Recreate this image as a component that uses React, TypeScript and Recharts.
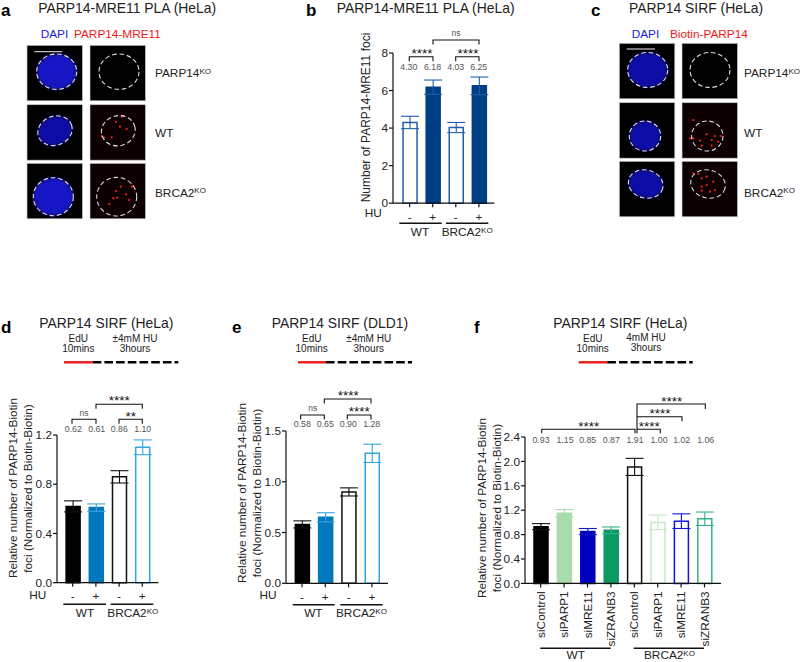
import { BarChart, Bar, XAxis, YAxis, ErrorBar } from 'recharts';

const font = '"Liberation Sans", Arial, sans-serif';

const huLabels = ['-', '+', '-', '+'];
const siLabels = ['siControl', 'siPARP1', 'siMRE11', 'siZRANB3', 'siControl', 'siPARP1', 'siMRE11', 'siZRANB3'];

const plaValues = [4.3, 6.18, 4.03, 6.25];
const plaErrors = [0.33, 0.38, 0.27, 0.47];
const plaTicks = [0, 2, 4, 6, 8];

const helaValues = [0.62, 0.61, 0.86, 1.1];
const helaErrors = [0.045, 0.03, 0.05, 0.06];
const helaTicks = [0, 0.4, 0.8, 1.2];

const dldValues = [0.58, 0.65, 0.9, 1.28];
const dldErrors = [0.035, 0.045, 0.04, 0.09];
const dldTicks = [0, 0.5, 1, 1.5];

const siValues = [0.93, 1.15, 0.85, 0.87, 1.91, 1.0, 1.02, 1.06];
const siErrors = [0.05, 0.06, 0.05, 0.055, 0.14, 0.12, 0.12, 0.11];
const siTicks = [0, 0.4, 0.8, 1.2, 1.6, 2.0, 2.4];

const NAVY = '#003f85';
const NAVY_LINE = '#1f5fa8';
const BLUE = '#0078bd';
const SKY = '#35a3e0';
const plaFills = ['#fff', NAVY, '#fff', NAVY];
const plaLines = [NAVY_LINE, NAVY, NAVY_LINE, NAVY];
const plaErrColors = [NAVY_LINE, NAVY_LINE, NAVY_LINE, NAVY_LINE];
const hdFills = ['#000', BLUE, '#fff', '#fff'];
const hdLines = ['#000', BLUE, '#111', SKY];
const hdErrColors = ['#111', SKY, '#111', SKY];
const siFills = ['#000', '#a9dcaa', '#0000bf', '#0a9a62', '#fff', '#fff', '#fff', '#fff'];
const siLines = ['#000', '#a9dcaa', '#0000bf', '#0a9a62', '#111', '#c4e8c4', '#1414e0', '#35b08c'];
const siErrColors = ['#111', '#a9dcaa', '#1414c8', '#35b08c', '#111', '#c4e8c4', '#1414e0', '#35b08c'];

// recharts' own angle leaves rotated labels off the tick, so centre them by hand
function RotatedTick({ x, y, payload }: any) {
  return (
    <text
      x={x}
      y={y}
      dy="0.35em"
      fontSize={11.8}
      fill="#222"
      fontFamily={font}
      textAnchor="end"
      transform={`rotate(-90 ${x} ${y})`}
    >
      {payload.value}
    </text>
  );
}

function BarPanel({ labels, values, errors, fills, lines, errColors, ticks, axisX, topY, zeroY, endX, firstX, step, rotate, decimals }: any) {
  const data = labels.map((label: string, i: number) => {
    const row: any = { label };
    row['v' + i] = values[i];
    row['e' + i] = errors[i];
    return row;
  });
  const yWidth = 30;
  const plotW = endX - axisX;
  const bottom = rotate ? 70 : 30;
  const lastX = firstX + step * (labels.length - 1);
  return (
    <div style={{ position: 'absolute', left: axisX - yWidth, top: topY - 10 }}>
      <BarChart
        width={yWidth + plotW + 4}
        height={zeroY - topY + 10 + bottom}
        data={data}
        margin={{ top: 10, right: 4, bottom: 0, left: 0 }}
      >
        <XAxis
          dataKey="label"
          interval={0}
          padding={{ left: firstX - axisX - step / 2, right: endX - lastX - step / 2 }}
          axisLine={{ stroke: '#111', strokeWidth: 1.2 }}
          tickLine={{ stroke: '#111', strokeWidth: 1.2 }}
          tickSize={4}
          tickMargin={rotate ? 4 : 5}
          height={bottom}
          tick={rotate ? RotatedTick : { fontSize: 11.8, fill: '#222', fontFamily: font }}
        />
        <YAxis
          width={yWidth}
          domain={[ticks[0], ticks[ticks.length - 1]]}
          ticks={ticks}
          interval={0}
          tickFormatter={(v: number) => v.toFixed(decimals)}
          axisLine={{ stroke: '#111', strokeWidth: 1.2 }}
          tickLine={{ stroke: '#111', strokeWidth: 1.2 }}
          tickSize={4}
          tickMargin={1}
          tick={{ fontSize: 11.8, fill: '#222', fontFamily: font }}
        />
        {labels.map((_: string, i: number) => (
          <Bar
            key={i}
            dataKey={'v' + i}
            stackId="a"
            barSize={14}
            fill={fills[i]}
            stroke={lines[i]}
            strokeWidth={1.5}
            isAnimationActive={false}
          >
            <ErrorBar dataKey={'e' + i} width={9} stroke={errColors[i]} strokeWidth={1.1} isAnimationActive={false} />
          </Bar>
        ))}
      </BarChart>
    </div>
  );
}

function T({ x, y, s = 11.8, fill = '#222', a = 'start', w, children }: any) {
  return (
    <text x={x} y={y} fontSize={s} fill={fill} textAnchor={a} fontWeight={w} fontFamily={font}>
      {children}
    </text>
  );
}

function KO({ x, y, s = 11.8, a = 'start' }: any) {
  return (
    <T x={x} y={y} s={s} a={a}>
      BRCA2<tspan dy={-3.5} fontSize={s * 0.68}>KO</tspan>
    </T>
  );
}

function Bracket({ x1, x2, y, leg = 4.5, leg2 }: any) {
  return (
    <path
      d={`M${x1} ${y + leg}V${y}H${x2}V${y + (leg2 ?? leg)}`}
      fill="none"
      stroke="#111"
      strokeWidth={1.1}
    />
  );
}

// centred on the glyphs, asterisks sit high in the em box
function Stars({ x, cy, n = 4 }: any) {
  return (
    <T x={x} y={cy + 7.6} s={13.5} a="middle" fill="#111">
      {'*'.repeat(n)}
    </T>
  );
}

function Values({ xs, y, list }: any) {
  return list.map((v: number, i: number) => (
    <T key={i} x={xs[i]} y={y} s={8.8} a="middle" fill="#555">
      {v.toFixed(2)}
    </T>
  ));
}

function Timeline({ x1, x2, x3, y }: any) {
  return (
    <g>
      <line x1={x1} x2={x2} y1={y} y2={y} stroke="#f01818" strokeWidth={2.4} />
      <line x1={x2} x2={x3} y1={y} y2={y} stroke="#000" strokeWidth={2.4} strokeDasharray="8.6 3.1" />
    </g>
  );
}

function GroupLines({ a1, a2, b1, b2, y }: any) {
  return (
    <g stroke="#111" strokeWidth={1.5}>
      <line x1={a1} x2={a2} y1={y} y2={y} />
      <line x1={b1} x2={b2} y1={y} y2={y} />
    </g>
  );
}

function Cell({ x, y, size = 55.5, red, cx, cy, rx, ry, rot = 0, dots = [], dim, blue = '#1212c4' }: any) {
  const tr = `rotate(${rot} ${cx} ${cy})`;
  return (
    <g>
      <rect x={x} y={y} width={size} height={size} fill={dim ? '#0d0101' : '#000'} stroke="#c8c8c8" strokeWidth={0.7} />
      {!red && <ellipse cx={cx} cy={cy} rx={rx} ry={ry} transform={tr} fill={blue} filter="url(#soft)" />}
      {dots.map((d: number[], i: number) => (
        <circle key={i} cx={d[0]} cy={d[1]} r={1.1} fill="#ff2020" filter="url(#dot)" />
      ))}
      <ellipse cx={cx} cy={cy} rx={rx} ry={ry} transform={tr} fill="none" stroke="#ddd" strokeWidth={1.1} strokeDasharray="4.6 2.8" />
    </g>
  );
}

const aDots2 = [[116, 122], [121.7, 116.7], [126.7, 129], [120, 126.7], [101.7, 136], [104, 137.7], [111.7, 137.3], [123.3, 116]];
const aDots3 = [[133.3, 186], [131.7, 186.7], [120.7, 186.7], [126, 194.3], [113.3, 198.3], [117.3, 197.7], [129, 200], [109.3, 204], [116, 191]];
const cDots2 = [[706.7, 134.3], [715, 136], [711.7, 140], [700, 140.7], [701.7, 145.7], [711.7, 145.7], [720.7, 136], [718.3, 141.7], [693.3, 138.3], [693.3, 120], [690, 138.3]];
const cDots3 = [[698.3, 174], [706.7, 176.7], [701.7, 178.3], [706.7, 185], [701.7, 186.7], [715, 190], [701.7, 190.7], [710, 191.7], [693.3, 173.3], [713.3, 181.7]];

const DIM_BLUE = '#0e0ea6';

export default function App() {
  return (
    <div style={{ position: 'absolute', left: 0, top: 0, width: 800, height: 662, overflow: 'hidden', background: '#fff' }}>
      <BarPanel labels={huLabels} values={plaValues} errors={plaErrors} fills={plaFills} lines={plaLines} errColors={plaErrColors}
        ticks={plaTicks} decimals={0} axisX={392.7} topY={53.3} zeroY={203.5} endX={494} firstX={409.3} step={23.1} />
      <BarPanel labels={huLabels} values={helaValues} errors={helaErrors} fills={hdFills} lines={hdLines} errColors={hdErrColors}
        ticks={helaTicks} decimals={1} axisX={57.3} topY={435} zeroY={582.7} endX={158.7} firstX={73} step={23.2} />
      <BarPanel labels={huLabels} values={dldValues} errors={dldErrors} fills={hdFills} lines={hdLines} errColors={hdErrColors}
        ticks={dldTicks} decimals={1} axisX={286} topY={430.7} zeroY={583} endX={388} firstX={302} step={23.3} />
      <BarPanel labels={siLabels} values={siValues} errors={siErrors} fills={siFills} lines={siLines} errColors={siErrColors}
        ticks={siTicks} decimals={1} axisX={525.3} topY={437.3} zeroY={583.7} endX={721.3} firstX={541} step={23.4} rotate />

      <svg width={800} height={662} style={{ position: 'absolute', left: 0, top: 0, pointerEvents: 'none' }}>
        <defs>
          <filter id="soft" x="-20%" y="-20%" width="140%" height="140%"><feGaussianBlur stdDeviation="1.4" /></filter>
          <filter id="dot" x="-100%" y="-100%" width="300%" height="300%"><feGaussianBlur stdDeviation="0.5" /></filter>
        </defs>

        {/* panel letters */}
        <T x={1} y={15.5} s={17} w="bold" fill="#000">a</T>
        <T x={306} y={15.5} s={17} w="bold" fill="#000">b</T>
        <T x={591} y={15.5} s={17} w="bold" fill="#000">c</T>
        <T x={1} y={333} s={17} w="bold" fill="#000">d</T>
        <T x={232} y={333} s={17} w="bold" fill="#000">e</T>
        <T x={474} y={333} s={17} w="bold" fill="#000">f</T>

        {/* a */}
        <T x={38.3} y={12.5} s={13.9}>PARP14-MRE11 PLA (HeLa)</T>
        <T x={40.7} y={38.3} fill="#1a1ae0">DAPI</T>
        <T x={74} y={38.3} fill="#f01818">PARP14-MRE11</T>
        <Cell x={27} y={45.3} cx={56.7} cy={71.7} rx={20} ry={17.7} />
        <Cell x={90} y={45.3} red cx={119} cy={71.7} rx={20} ry={17.7} />
        <Cell x={27} y={104.7} cx={55} cy={130.7} rx={17.5} ry={14.5} rot={-20} blue={DIM_BLUE} />
        <Cell x={90} y={104.7} red dim cx={118.3} cy={130.7} rx={17} ry={15} rot={-15} dots={aDots2} />
        <Cell x={27} y={163.3} cx={53.3} cy={196.7} rx={20} ry={19} />
        <Cell x={90} y={163.3} red dim cx={116.7} cy={196.7} rx={20} ry={19.3} dots={aDots3} />
        <line x1={34.3} x2={62.3} y1={51.7} y2={51.7} stroke="#eee" strokeWidth={1} />
        <T x={155} y={77}>PARP14<tspan dy={-3.5} fontSize={8}>KO</tspan></T>
        <T x={155} y={136.7}>WT</T>
        <KO x={155} y={196.7} />

        {/* b */}
        <T x={336.7} y={12.5} s={13.9}>PARP14-MRE11 PLA (HeLa)</T>
        <g transform="translate(370 117.5) rotate(-90)"><T x={0} y={0} s={12} a="middle">Number of PARP14-MRE11 foci</T></g>
        <Bracket x1={409.3} x2={433} y={56.7} />
        <Bracket x1={455.7} x2={479} y={56.7} />
        <Bracket x1={433} x2={479} y={40} />
        <Stars x={422} cy={50} />
        <Stars x={468} cy={50} />
        <T x={456} y={36} s={8.5} a="middle" fill="#555">ns</T>
        <Values xs={[408.8, 432.5, 455.7, 478.7]} y={70} list={plaValues} />
        <T x={364.7} y={217}>HU</T>
        <GroupLines a1={399.3} a2={441.7} b1={446} b2={488.3} y={223.3} />
        <T x={420} y={236} a="middle">WT</T>
        <KO x={441.7} y={236} />

        {/* c */}
        <T x={629} y={12.5} s={13.9}>PARP14 SIRF (HeLa)</T>
        <T x={631.7} y={38.3} fill="#1a1ae0">DAPI</T>
        <T x={670} y={38.3} fill="#f01818">Biotin-PARP14</T>
        <Cell x={619.3} y={43.3} cx={647.7} cy={70} rx={20} ry={17.5} blue={DIM_BLUE} />
        <Cell x={682} y={43.3} red cx={710} cy={70} rx={20} ry={17.5} />
        <Cell x={619.3} y={102.7} cx={645} cy={136} rx={15.7} ry={15} blue={DIM_BLUE} />
        <Cell x={682} y={102.7} red dim cx={707.3} cy={136} rx={15.7} ry={15} dots={cDots2} />
        <Cell x={619.3} y={161.3} cx={645.7} cy={184} rx={17.5} ry={14} rot={15} blue={DIM_BLUE} />
        <Cell x={682} y={161.3} red dim cx={708} cy={184} rx={17.5} ry={14} rot={15} dots={cDots3} />
        <line x1={626.7} x2={655} y1={49} y2={49} stroke="#eee" strokeWidth={1} />
        <T x={744} y={77}>PARP14<tspan dy={-3.5} fontSize={8}>KO</tspan></T>
        <T x={744} y={137}>WT</T>
        <KO x={744} y={196.7} />

        {/* d */}
        <T x={39.3} y={328.3} s={13.9}>PARP14 SIRF (HeLa)</T>
        <T x={78.3} y={341.5} s={10} a="middle">EdU</T>
        <T x={78.3} y={352} s={10} a="middle">10mins</T>
        <T x={135} y={341.5} s={10} a="middle">±4mM HU</T>
        <T x={135} y={352} s={10} a="middle">3hours</T>
        <Timeline x1={64} x2={92.7} x3={178.3} y={362.3} />
        <g transform="translate(16.5 488) rotate(-90)"><T x={0} y={0} a="middle">Relative number of PARP14-Biotin</T></g>
        <g transform="translate(32 488.5) rotate(-90)"><T x={0} y={0} a="middle">foci (Normalized to Biotin-Biotin)</T></g>
        <Bracket x1={72} x2={96} y={419.3} />
        <Bracket x1={119} x2={142.3} y={419.3} />
        <Bracket x1={96} x2={142.3} y={404.3} />
        <T x={84} y={416} s={8.5} a="middle" fill="#555">ns</T>
        <Stars x={130.7} cy={413} n={2} />
        <Stars x={119.3} cy={397.7} />
        <Values xs={[73.3, 96.7, 119.3, 142.7]} y={432.3} list={helaValues} />
        <T x={29.3} y={599.3}>HU</T>
        <GroupLines a1={63.3} a2={106} b1={110.7} b2={153.3} y={604.3} />
        <T x={85} y={617.3} a="middle">WT</T>
        <KO x={107.3} y={617.3} />

        {/* e */}
        <T x={271.7} y={328.3} s={13.9}>PARP14 SIRF (DLD1)</T>
        <T x={311.7} y={341.5} s={10} a="middle">EdU</T>
        <T x={311.7} y={352} s={10} a="middle">10mins</T>
        <T x={368.7} y={341.5} s={10} a="middle">±4mM HU</T>
        <T x={368.7} y={352} s={10} a="middle">3hours</T>
        <Timeline x1={298} x2={326} x3={412} y={362.3} />
        <g transform="translate(245.5 493) rotate(-90)"><T x={0} y={0} a="middle">Relative number of PARP14-Biotin</T></g>
        <g transform="translate(261 493) rotate(-90)"><T x={0} y={0} a="middle">foci (Normalized to Biotin-Biotin)</T></g>
        <Bracket x1={300.7} x2={324.3} y={415} />
        <Bracket x1={347.3} x2={371} y={415} />
        <Bracket x1={324.3} x2={371} y={399} />
        <T x={312.7} y={411} s={8.5} a="middle" fill="#555">ns</T>
        <Stars x={359.3} cy={408.7} />
        <Stars x={348.3} cy={392.3} />
        <Values xs={[302.3, 325.3, 348.3, 371.7]} y={427.3} list={dldValues} />
        <T x={259.5} y={599.3}>HU</T>
        <GroupLines a1={292.7} a2={334.7} b1={340.3} b2={382.7} y={604.7} />
        <T x={313.3} y={617.3} a="middle">WT</T>
        <KO x={336} y={617.3} />

        {/* f */}
        <T x={553.3} y={328.3} s={13.9}>PARP14 SIRF (HeLa)</T>
        <T x={592.7} y={341.5} s={10} a="middle">EdU</T>
        <T x={592.7} y={352} s={10} a="middle">10mins</T>
        <T x={646} y={340.7} s={10} a="middle">4mM HU</T>
        <T x={646} y={351} s={10} a="middle">3hours</T>
        <Timeline x1={578.7} x2={607.3} x3={692.7} y={362.3} />
        <g transform="translate(485.5 508) rotate(-90)"><T x={0} y={0} a="middle">Relative number of PARP14-Biotin</T></g>
        <g transform="translate(500.5 508) rotate(-90)"><T x={0} y={0} a="middle">foci (Normalized to Biotin-Biotin)</T></g>
        <Bracket x1={541.7} x2={635} y={429.3} leg={4} />
        <Bracket x1={637} x2={660.3} y={429.3} leg={4} />
        <Bracket x1={637} x2={682} y={416.7} leg={12.6} leg2={4.5} />
        <Bracket x1={637} x2={705.3} y={404} leg={12.7} leg2={5} />
        <Stars x={588.7} cy={423.3} />
        <Stars x={649.3} cy={423.3} />
        <Stars x={660} cy={410.7} />
        <Stars x={671.7} cy={398} />
        <Values xs={[541, 565, 587.7, 611.3, 635, 659, 681.7, 705.7]} y={442.7} list={siValues} />
        <GroupLines a1={540.3} a2={610.7} b1={633.7} b2={704} y={648.3} />
        <T x={575.7} y={659} a="middle">WT</T>
        <KO x={644} y={659} />
      </svg>
    </div>
  );
}
